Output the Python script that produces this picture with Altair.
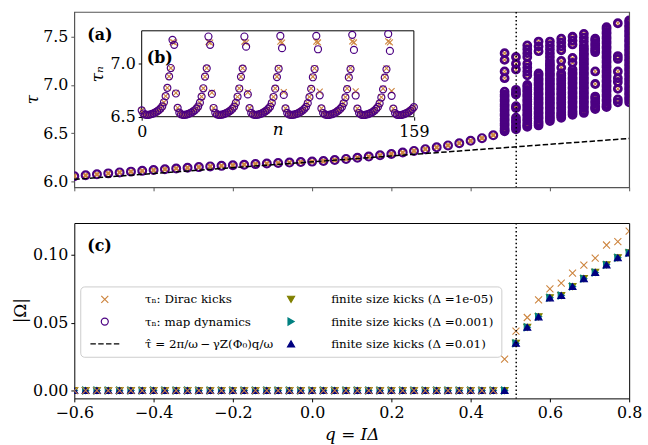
import altair as alt
import pandas as pd

FONT = "DejaVu Serif"
ORANGE = "peru"
PURPLE = "indigo"
TOP_FRAME = "#555555"

# symbol paths (unit box, scaled by marker size)
X_MARK = "M-1,-1L1,1M-1,1L1,-1"
DASH_MARK = "M-4.1,0H-2.55M-1.87,0H-0.32M0.36,0H1.91M2.59,0H4.14"

# ---------------------------------------------------------------- data
q_values = [-0.6, -0.5714, -0.5429, -0.5143, -0.4857, -0.4571, -0.4286, -0.4, -0.3714, -0.3429,
            -0.3143, -0.2857, -0.2571, -0.2286, -0.2, -0.1714, -0.1429, -0.1143, -0.0857, -0.0571,
            -0.0286, 0.0, 0.0286, 0.0571, 0.0857, 0.1143, 0.1429, 0.1714, 0.2, 0.2286,
            0.2571, 0.2857, 0.3143, 0.3429, 0.3714, 0.4, 0.4286, 0.4571, 0.4857, 0.5143,
            0.5429, 0.5714, 0.6, 0.6286, 0.6571, 0.6857, 0.7143, 0.7429, 0.7714, 0.8]

# period below the bifurcation (one value per q)
tau_stable = [6.054, 6.063, 6.073, 6.083, 6.093, 6.101, 6.109, 6.117, 6.126, 6.134,
              6.141, 6.148, 6.155, 6.161, 6.167, 6.173, 6.179, 6.185, 6.190, 6.195,
              6.200, 6.205, 6.211, 6.221, 6.233, 6.245, 6.257, 6.270, 6.284, 6.299,
              6.316, 6.334, 6.353, 6.373, 6.396, 6.421, 6.448, 6.479]

# spread of tau_n above the bifurcation, keyed by index into q_values
tau_columns = {
    38: [7.33, 7.26, 7.14, 7.07, 6.93, 6.90, 6.88, 6.85, 6.83, 6.80, 6.78, 6.75, 6.73, 6.70,
         6.68, 6.65, 6.63, 6.60, 6.58, 6.55, 6.53, 6.52],
    39: [7.29, 7.22, 7.16, 6.95, 6.92, 6.90, 6.78, 6.76, 6.66, 6.63, 6.61, 6.58, 6.56, 6.54],
    40: [7.41, 7.37, 7.33, 7.29, 7.22, 7.18, 7.14, 7.10, 7.00, 6.98, 6.95, 6.93, 6.90, 6.88,
         6.85, 6.83, 6.80, 6.78, 6.75, 6.73, 6.70, 6.68, 6.65, 6.63, 6.60, 6.58, 6.565],
    41: [7.45, 7.40, 7.35, 7.12, 7.10, 7.07, 7.05, 7.02, 7.00, 6.97, 6.95, 6.92, 6.90, 6.87,
         6.85, 6.82, 6.80, 6.77, 6.75, 6.72, 6.70, 6.67, 6.65, 6.62, 6.60, 6.58],
    42: [7.45, 7.41, 7.37, 7.33, 7.29, 7.25, 7.22, 7.20, 7.17, 7.15, 7.12, 7.10, 7.07, 7.05,
         7.02, 7.00, 6.97, 6.95, 6.92, 6.90, 6.87, 6.85, 6.82, 6.80, 6.77, 6.75, 6.72, 6.70,
         6.67, 6.65, 6.625],
    43: [7.48, 7.44, 7.40, 7.36, 7.25, 7.18, 7.12, 7.10, 7.07, 7.05, 7.02, 7.00, 6.97, 6.95,
         6.92, 6.90, 6.87, 6.85, 6.82, 6.80, 6.77, 6.75, 6.72, 6.70, 6.68, 6.66],
    44: [7.50, 7.46, 7.42, 7.28, 7.23, 7.16, 7.13, 7.11, 7.08, 7.06, 7.03, 7.01, 6.98, 6.96,
         6.93, 6.91, 6.88, 6.86, 6.83, 6.81, 6.78, 6.76, 6.73, 6.71, 6.69],
    45: [7.53, 7.49, 7.45, 7.41, 7.38, 7.36, 7.33, 7.31, 7.28, 7.26, 7.23, 7.21, 7.18, 7.16,
         7.13, 7.11, 7.08, 7.06, 7.03, 7.01, 6.98, 6.96, 6.93, 6.91, 6.88, 6.86, 6.83, 6.81,
         6.78, 6.76, 6.73, 6.71],
    46: [7.48, 7.46, 7.43, 7.41, 7.38, 7.36, 7.34, 7.14, 7.01, 6.88, 6.86, 6.83, 6.81, 6.78,
         6.76, 6.75],
    47: [7.60, 7.58, 7.55, 7.53, 7.50, 7.48, 7.45, 7.43, 7.40, 7.38, 7.35, 7.33, 7.30, 7.28,
         7.25, 7.23, 7.20, 7.18, 7.15, 7.13, 7.10, 7.08, 7.05, 7.03, 7.00, 6.98, 6.95, 6.93,
         6.90, 6.88, 6.85, 6.83, 6.80, 6.78, 6.77],
    48: [7.64, 7.30, 7.27, 7.14, 7.07, 7.03, 6.96, 6.85, 6.82],
    49: [7.67, 7.65, 7.62, 7.60, 7.57, 7.55, 7.52, 7.50, 7.47, 7.45, 7.42, 7.40, 7.37, 7.35,
         7.32, 7.30, 7.27, 7.25, 7.22, 7.20, 7.17, 7.15, 7.12, 7.10, 7.07, 7.05, 7.02, 7.00,
         6.97, 6.95, 6.92, 6.90, 6.87, 6.85, 6.82],
}

# linear estimate tau_hat(q)
tau_hat_q = [-0.6, 0.8]
tau_hat = [6.021, 6.445]
q_critical = 0.515

# (b): tau_n sequence, n = 0..159
tau_map_inset = [
    6.560, 6.530, 6.520, 6.517, 6.518, 6.521, 6.526, 6.532, 6.540, 6.550, 6.562, 6.577, 6.597, 6.636, 6.694, 6.772, 6.881, 6.959, 7.225, 7.178, 6.719,
    6.584, 6.538, 6.523, 6.518, 6.518, 6.520, 6.525, 6.531, 6.539, 6.549, 6.561, 6.576, 6.596, 6.632, 6.690, 6.768, 6.878, 6.956, 7.256, 7.178, 6.715,
    6.582, 6.537, 6.522, 6.518, 6.517, 6.520, 6.525, 6.531, 6.539, 6.548, 6.560, 6.575, 6.595, 6.630, 6.688, 6.766, 6.876, 6.954, 7.256, 7.160, 6.710,
    6.580, 6.536, 6.522, 6.517, 6.517, 6.520, 6.524, 6.530, 6.538, 6.548, 6.560, 6.575, 6.594, 6.629, 6.686, 6.764, 6.874, 6.952, 7.262, 7.146, 6.705,
    6.579, 6.536, 6.521, 6.517, 6.517, 6.519, 6.524, 6.530, 6.538, 6.547, 6.559, 6.574, 6.593, 6.628, 6.684, 6.762, 6.872, 6.950, 7.262, 7.136, 6.702,
    6.578, 6.535, 6.521, 6.517, 6.516, 6.519, 6.523, 6.529, 6.537, 6.547, 6.559, 6.573, 6.592, 6.627, 6.683, 6.760, 6.870, 6.949, 7.272, 7.130, 6.700,
    6.577, 6.535, 6.521, 6.516, 6.516, 6.519, 6.523, 6.529, 6.537, 6.546, 6.558, 6.573, 6.592, 6.626, 6.681, 6.758, 6.868, 6.947, 7.280, 7.120, 6.697,
    6.576, 6.534, 6.520, 6.516, 6.516, 6.518, 6.523, 6.529, 6.536, 6.546, 6.558, 6.572, 6.591,
]
tau_dirac_inset = [
    6.560, 6.530, 6.520, 6.517, 6.518, 6.521, 6.526, 6.532, 6.540, 6.550, 6.562, 6.577, 6.597, 6.636, 6.694, 6.772, 6.881, 6.959, 7.205, 7.198, 6.724,
    6.584, 6.538, 6.523, 6.518, 6.518, 6.520, 6.525, 6.531, 6.539, 6.549, 6.561, 6.576, 6.596, 6.632, 6.690, 6.768, 6.878, 6.958, 7.206, 7.198, 6.727,
    6.582, 6.537, 6.522, 6.518, 6.517, 6.520, 6.525, 6.531, 6.539, 6.548, 6.560, 6.575, 6.595, 6.630, 6.688, 6.768, 6.878, 6.957, 7.207, 7.199, 6.730,
    6.580, 6.536, 6.522, 6.517, 6.517, 6.520, 6.524, 6.530, 6.538, 6.548, 6.560, 6.575, 6.594, 6.629, 6.687, 6.767, 6.877, 6.957, 7.208, 7.199, 6.733,
    6.579, 6.536, 6.521, 6.517, 6.517, 6.519, 6.524, 6.530, 6.538, 6.547, 6.559, 6.574, 6.593, 6.628, 6.686, 6.766, 6.877, 6.956, 7.208, 7.200, 6.736,
    6.578, 6.535, 6.521, 6.517, 6.516, 6.519, 6.523, 6.529, 6.537, 6.547, 6.559, 6.573, 6.592, 6.627, 6.685, 6.766, 6.876, 6.956, 7.209, 7.200, 6.739,
    6.577, 6.535, 6.521, 6.516, 6.516, 6.519, 6.523, 6.529, 6.537, 6.546, 6.558, 6.573, 6.592, 6.626, 6.684, 6.765, 6.876, 6.955, 7.210, 7.201, 6.742,
    6.576, 6.534, 6.520, 6.516, 6.516, 6.518, 6.523, 6.529, 6.536, 6.546, 6.558, 6.572, 6.591,
]

# (c): |Omega| for each q
omega_dirac = [0.0] * 38 + [0.0232, 0.0437, 0.0538, 0.0667, 0.0749, 0.0792, 0.0865, 0.0923,
                            0.0976, 0.1072, 0.1097, 0.1174]
omega_fs_1e5 = [0.0] * 39 + [0.0348, 0.0466, 0.0543, 0.0683, 0.0700, 0.0766, 0.0824, 0.0870,
                             0.0926, 0.0978, 0.1014]
omega_fs_1e3 = [0.0] * 39 + [0.0348, 0.0466, 0.0543, 0.0683, 0.0700, 0.0766, 0.0824, 0.0870,
                             0.0926, 0.0978, 0.1014]
omega_fs_1e2 = [0.0] * 39 + [0.0348, 0.0466, 0.0543, 0.0683, 0.0700, 0.0766, 0.0824, 0.0870,
                             0.0926, 0.0978, 0.1014]

# axis domains / ticks
q_domain = [-0.6, 0.8]
q_ticks = [-0.6, -0.4, -0.2, 0.0, 0.2, 0.4, 0.6, 0.8]
tau_domain = [5.938, 7.757]
tau_ticks = [6.0, 6.5, 7.0, 7.5]
omega_domain = [-0.0058, 0.1234]
omega_ticks = [0.0, 0.05, 0.10]
n_domain = [0, 159]
tau_n_domain = [6.5, 7.31]
tau_n_ticks = [6.5, 7.0]

S_DIRAC = "τₙ: Dirac kicks"
S_MAP = "τₙ: map dynamics"
S_LINE = "τ̂ = 2π/ω\u2009−\u2009γZ(Φ₀)q/ω"
S_FS5 = "finite size kicks (Δ =1e-05)"
S_FS3 = "finite size kicks (Δ =0.001)"
S_FS2 = "finite size kicks (Δ =0.01)"

# ---------------------------------------------------------------- tables
stable_df = pd.DataFrame({"q": q_values[:len(tau_stable)], "tau": tau_stable})
scatter_df = pd.DataFrame([(q_values[k], t) for k, col in tau_columns.items() for t in col],
                          columns=["q", "tau"])
line_df = pd.DataFrame({"q": tau_hat_q, "tau": tau_hat})
crit_df = pd.DataFrame({"q": [q_critical]})
inset_map_df = pd.DataFrame({"n": list(range(len(tau_map_inset))), "tau_n": tau_map_inset})
inset_dirac_df = pd.DataFrame({"n": list(range(len(tau_dirac_inset))), "tau_n": tau_dirac_inset})
frame_df = pd.DataFrame({"n": [n_domain[0]], "n2": [n_domain[1]],
                         "tau_n": [tau_n_domain[0]], "tau_n2": [tau_n_domain[1]]})

omega_rows = []
for name, vals in [(S_FS5, omega_fs_1e5), (S_FS3, omega_fs_1e3), (S_FS2, omega_fs_1e2),
                   (S_DIRAC, omega_dirac)]:
    omega_rows += [(q, v, name) for q, v in zip(q_values, vals)]
omega_df = pd.DataFrame(omega_rows, columns=["q", "omega", "series"])


def panel_text(text, x, y, size=16, weight="bold", style="normal", angle=0):
    """A fixed annotation placed in pixel coordinates of the panel."""
    return alt.Chart(pd.DataFrame({"t": [text]})).mark_text(
        font=FONT, fontSize=size, fontWeight=weight, fontStyle=style, angle=angle,
        align="left" if angle == 0 else "center", baseline="middle"
    ).encode(text="t:N", x=alt.value(x), y=alt.value(y))


# ---------------------------------------------------------------- panel (a) + inset (b)
x_top = alt.X("q:Q", scale=alt.Scale(domain=q_domain, nice=False, zero=False),
              axis=alt.Axis(values=q_ticks, labels=False, title=None, tickColor=TOP_FRAME))
y_top = alt.Y("tau:Q", scale=alt.Scale(domain=tau_domain, nice=False, zero=False),
              axis=alt.Axis(values=tau_ticks, format=".1f", title=None, tickColor=TOP_FRAME))

tau_line = alt.Chart(line_df).mark_line(color="black", strokeDash=[5.5, 2.4], strokeWidth=1.5,
                                        clip=True).encode(x=x_top, y=y_top)
dirac_stable = alt.Chart(stable_df).mark_point(
    shape=X_MARK, size=40, filled=False, stroke=ORANGE, strokeWidth=2.2, opacity=1, clip=True
).encode(x=x_top, y=y_top)
dirac_scatter = alt.Chart(scatter_df).mark_point(
    shape=X_MARK, size=40, filled=False, stroke=ORANGE, strokeWidth=1.2, opacity=1, clip=True
).encode(x=x_top, y=y_top)
map_scatter = alt.Chart(scatter_df).mark_point(
    shape="circle", size=50, filled=False, stroke=PURPLE, strokeWidth=2.8, opacity=1, clip=True
).encode(x=x_top, y=y_top)
map_stable = alt.Chart(stable_df).mark_point(
    shape="circle", size=62, filled=False, stroke=PURPLE, strokeWidth=2.2, opacity=1, clip=True
).encode(x=x_top, y=y_top)
crit_top = alt.Chart(crit_df).mark_rule(color="black", strokeDash=[1.5, 2.5],
                                         strokeWidth=1.5).encode(x=x_top)
label_a = panel_text("(a)", 13, 23)
title_tau = panel_text("τ", -42, 88.5, size=17, weight="normal", style="italic", angle=270)

main_a = alt.layer(dirac_stable, dirac_scatter, map_scatter, map_stable, tau_line, crit_top,
                   label_a, title_tau)

x_in = alt.X("n:Q", scale=alt.Scale(domain=n_domain, range=[68, 342.7], nice=False, zero=False),
             axis=alt.Axis(values=[0, 159], format="d", title="n", titleFontStyle="italic",
                           orient="bottom", offset=-71.3, labelFlush=False,
                           titleBaseline="alphabetic", titleY=18, tickColor="black"))
y_in = alt.Y("tau_n:Q", scale=alt.Scale(domain=tau_n_domain, range=[105.7, 19], nice=False,
                                        zero=False),
             axis=alt.Axis(values=tau_n_ticks, format=".1f", title="τₙ", titleFontStyle="italic",
                           orient="left", offset=-68, titlePadding=4, tickColor="black"))

inset_frame = alt.Chart(frame_df).mark_rect(fill="white", stroke="black", strokeWidth=1).encode(
    x=x_in, x2="n2:Q", y=y_in, y2="tau_n2:Q")
inset_dirac = alt.Chart(inset_dirac_df).mark_point(
    shape=X_MARK, size=36, filled=False, stroke=ORANGE, strokeWidth=1.1, opacity=1
).encode(x=x_in, y=y_in)
inset_map = alt.Chart(inset_map_df).mark_point(
    shape="circle", size=50, filled=False, stroke=PURPLE, strokeWidth=1.2, opacity=1
).encode(x=x_in, y=y_in)
label_b = panel_text("(b)", 73, 47)

inset_b = alt.layer(inset_frame, inset_dirac, inset_map, label_b)

top = alt.layer(main_a, inset_b).resolve_scale(x="independent", y="independent").properties(
    width=560, height=177, view=alt.ViewBackground(stroke=TOP_FRAME, strokeWidth=1.2))

# ---------------------------------------------------------------- panel (c)
x_bot = alt.X("q:Q", scale=alt.Scale(domain=q_domain, nice=False, zero=False),
              axis=alt.Axis(values=q_ticks, format=".1f", title="q = IΔ",
                            titleFontStyle="italic", labelFlush=False, titlePadding=6))
y_bot = alt.Y("omega:Q", scale=alt.Scale(domain=omega_domain, nice=False, zero=False),
              axis=alt.Axis(values=omega_ticks, format=".2f", title=None))

# legend entries fill column by column
series_domain = [S_DIRAC, S_MAP, S_LINE, S_FS5, S_FS3, S_FS2]
shape_range = [X_MARK, "circle", DASH_MARK, "triangle-down", "triangle-right", "triangle-up"]
fill_range = ["transparent", "transparent", "transparent", "olive", "teal", "navy"]
stroke_range = [ORANGE, PURPLE, "black", "olive", "teal", "navy"]

legend = alt.Legend(
    orient="none", legendX=6, legendY=64, columns=2, title=None,
    padding=7, rowPadding=10.5, columnPadding=0,
    symbolOffset=11.75, labelOffset=34.5, symbolSize=50, symbolStrokeWidth=1.2,
    symbolOpacity=1, labelFont=FONT, labelFontSize=12, labelLimit=400,
    labelColor="black", fillColor="white", strokeColor="#cccccc", cornerRadius=4,
)

omega_pts = alt.Chart(omega_df).mark_point(size=50, strokeWidth=1.1, opacity=1, filled=True,
                                           clip=True).encode(
    x=x_bot, y=y_bot,
    shape=alt.Shape("series:N", scale=alt.Scale(domain=series_domain, range=shape_range),
                    legend=legend),
    fill=alt.Fill("series:N", scale=alt.Scale(domain=series_domain, range=fill_range),
                  legend=legend),
    stroke=alt.Stroke("series:N", scale=alt.Scale(domain=series_domain, range=stroke_range),
                      legend=legend),
)
crit_bot = alt.Chart(crit_df).mark_rule(color="black", strokeDash=[1.5, 2.5],
                                         strokeWidth=1.5).encode(x=x_bot)
label_c = panel_text("(c)", 13, 23)
title_omega = panel_text("|Ω|", -54, 88.5, size=17, weight="normal", angle=270)

bottom = alt.layer(omega_pts, crit_bot, label_c, title_omega).properties(width=560, height=177)

# ---------------------------------------------------------------- assemble
chart = (
    alt.vconcat(top, bottom, spacing=29)
    .resolve_scale(x="independent", y="independent", shape="independent",
                   fill="independent", stroke="independent")
    .properties(padding={"left": 11, "top": 8, "right": 5, "bottom": 5}, background="white")
    .configure(font=FONT)
    .configure_view(stroke="black", strokeWidth=1)
    .configure_axis(labelFont=FONT, titleFont=FONT, labelFontSize=16, titleFontSize=17,
                    labelColor="black", titleColor="black", titleFontWeight="normal",
                    tickColor="black", tickSize=3.5, tickWidth=1, domain=False, grid=False,
                    labelPadding=3)
)

chart.save("out.html", embed_options={"renderer": "svg", "actions": False})
